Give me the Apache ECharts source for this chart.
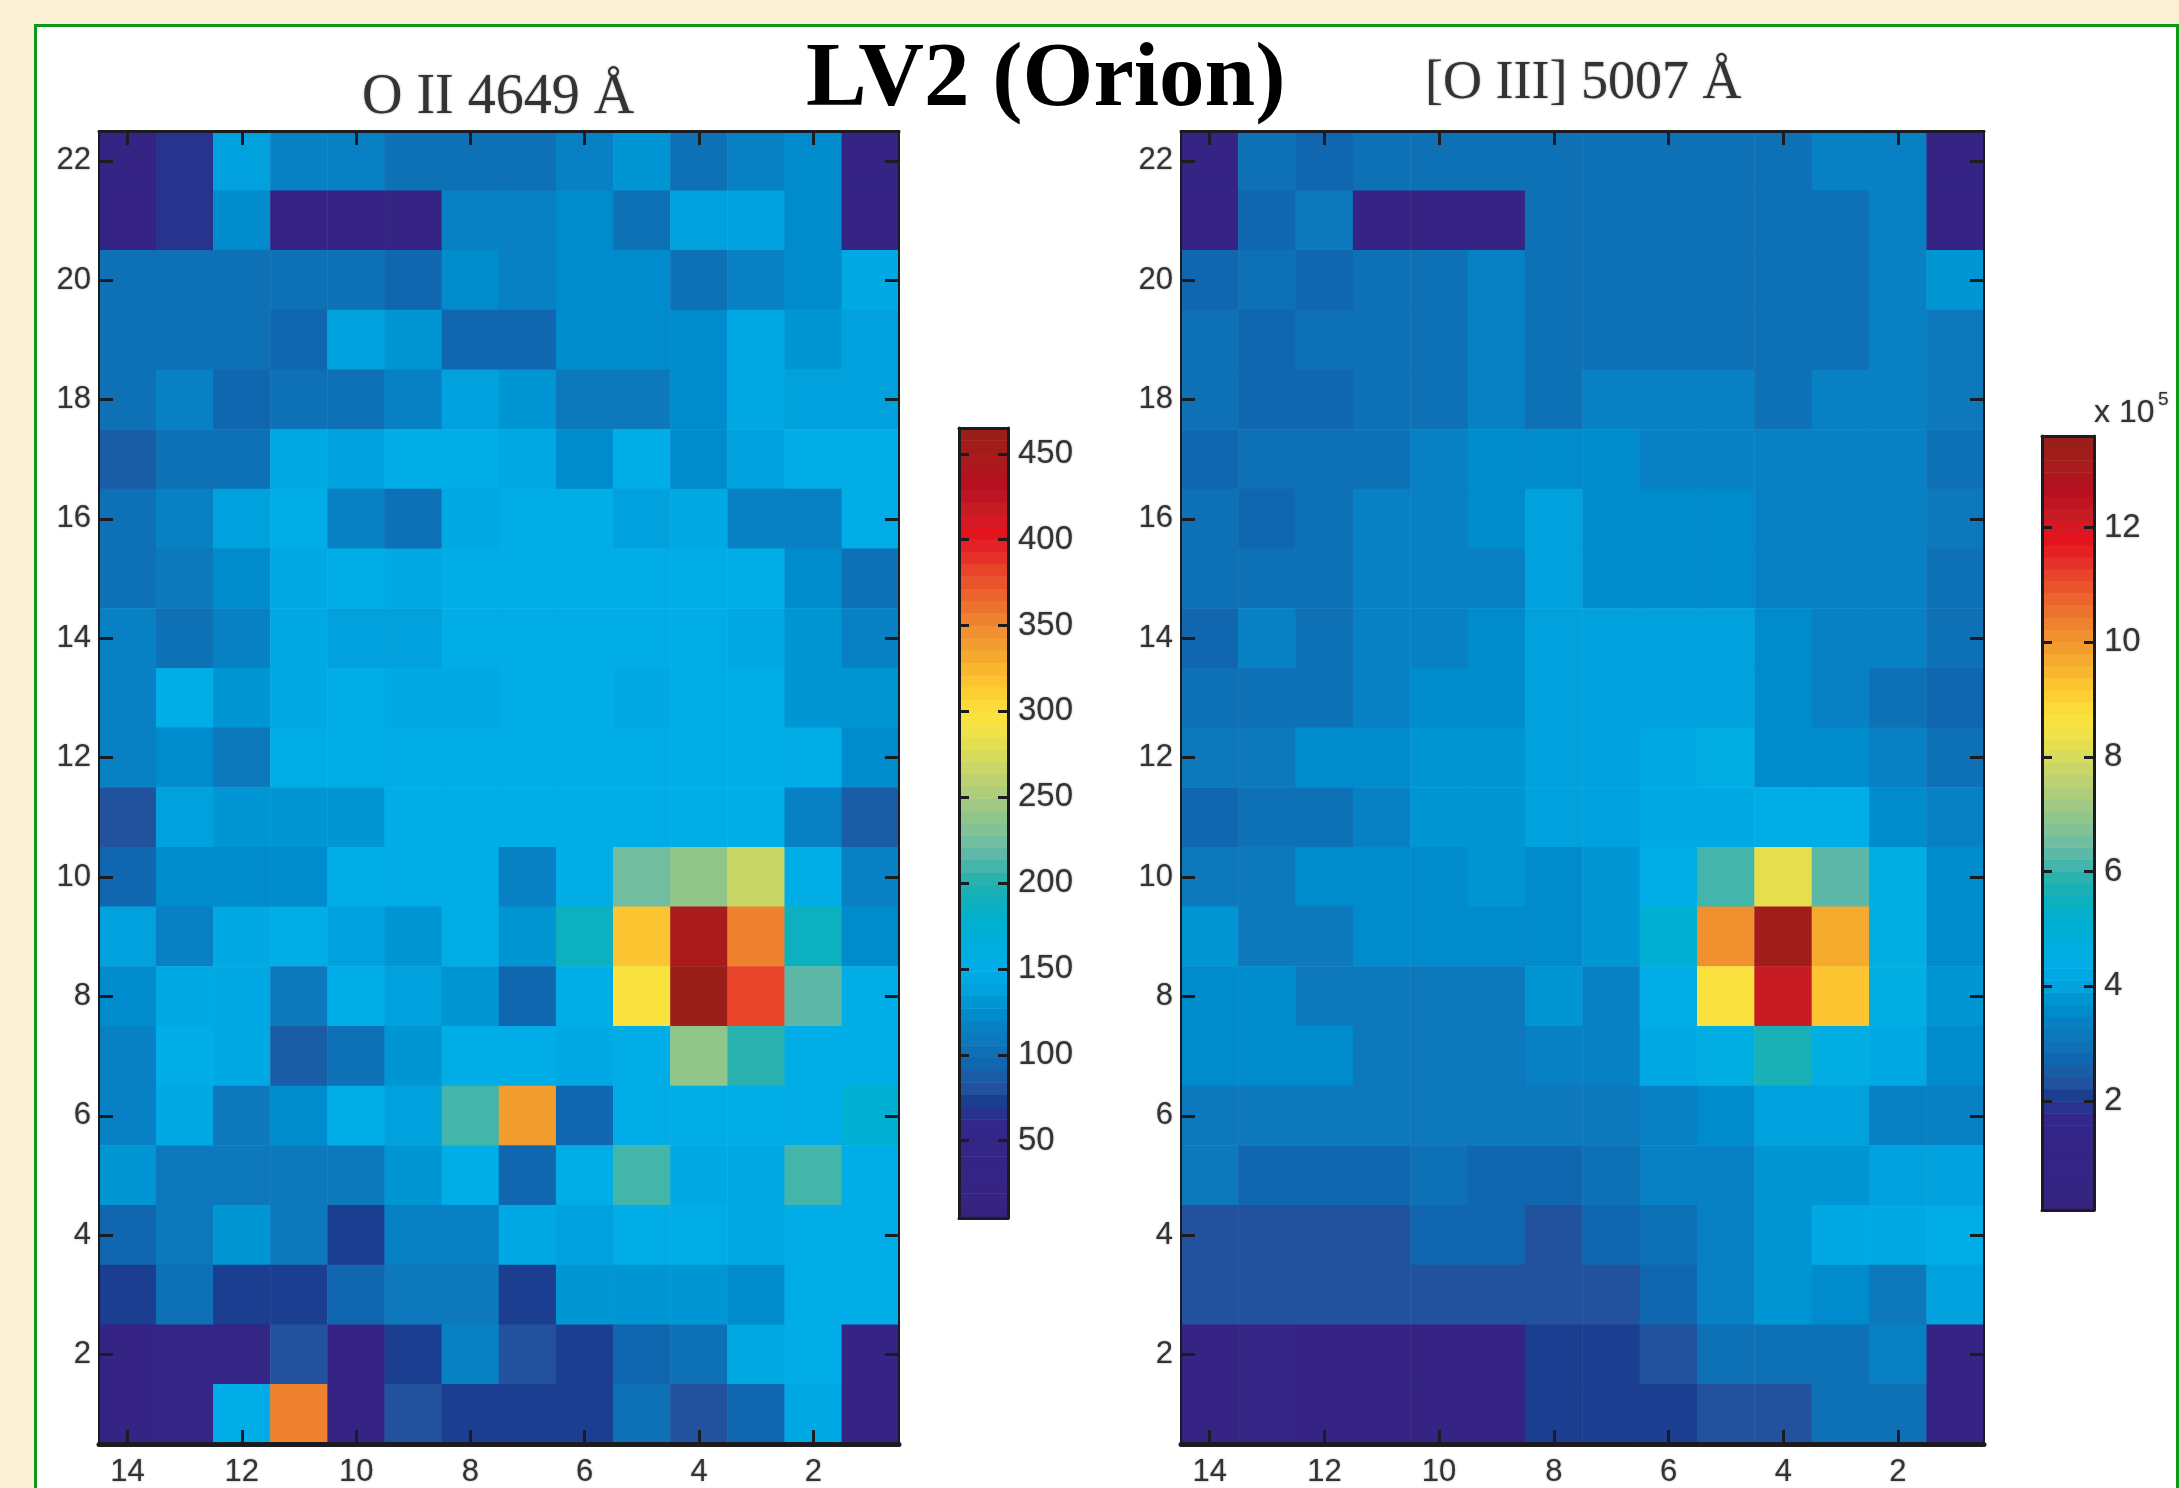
<!DOCTYPE html>
<html><head><meta charset="utf-8">
<style>html,body{margin:0;padding:0;background:#fbefd5;overflow:hidden}#c{width:2179px;height:1488px}</style>
<script src="https://cdn.jsdelivr.net/npm/echarts@6/dist/echarts.min.js"></script>
</head><body><div id="c"></div>
<script>
const columns = ['14','13','12','11','10','9','8','7','6','5','4','3','2','1'];
const rowsUp = ['1','2','3','4','5','6','7','8','9','10','11','12','13','14','15','16','17','18','19','20','21','22'];
const o2Ticks = [50,100,150,200,250,300,350,400,450];
const o3Ticks = [2,4,6,8,10,12];
const o2Range = [5,465];
const o3Range = [0.1,13.6];

// rows listed top (22) to bottom (1), columns 14 -> 1
const o2Rows = [
[20,68,135,115,115,105,105,105,115,133,105,118,125,20],
[20,68,125,20,20,20,118,118,120,105,135,135,122,20],
[105,105,105,105,105,95,125,118,120,120,105,115,122,145],
[105,105,105,95,140,128,92,92,120,125,125,145,130,140],
[105,115,95,102,102,115,140,130,112,112,125,145,135,140],
[90,102,102,145,135,152,152,142,120,155,125,135,150,150],
[103,115,135,152,113,100,143,150,150,135,142,115,115,150],
[103,110,122,148,152,142,150,152,152,152,152,150,120,102],
[118,100,118,145,135,135,150,152,152,152,150,142,130,113],
[118,152,130,142,150,143,142,152,152,143,152,150,128,130],
[115,120,112,150,150,150,152,155,153,152,150,150,150,122],
[80,140,130,130,130,150,152,153,153,153,152,152,118,85],
[95,120,122,120,150,150,152,118,150,225,240,270,152,115],
[138,118,145,155,140,128,150,130,188,320,448,350,188,125],
[120,142,145,112,152,140,130,95,152,295,462,385,215,150],
[115,150,145,90,105,130,150,155,148,153,240,200,153,153],
[115,142,112,122,152,140,210,338,95,153,153,153,153,175],
[128,112,112,110,110,128,152,92,150,212,142,142,212,150],
[95,110,130,112,72,118,118,142,138,150,152,145,150,150],
[74,100,74,70,98,112,112,72,130,130,130,122,150,150],
[25,30,30,80,25,72,115,80,72,95,100,145,150,20],
[20,28,155,350,25,80,72,70,72,105,82,95,145,20]
];
const o3Rows = [
[0.7,3.05,2.75,3.05,3.05,3.05,3.05,3.05,3.05,3.05,3.05,3.3,3.3,0.7],
[0.7,2.75,3.2,0.7,0.7,0.7,3.05,3.05,3.05,3.05,3.05,3.05,3.3,0.7],
[2.75,3.05,2.75,3.05,3.05,3.3,3.05,3.05,3.05,3.05,3.05,3.05,3.3,3.7],
[3.05,2.75,3.05,3.05,3.05,3.3,3.05,3.05,3.05,3.05,3.05,3.05,3.3,3.2],
[3.05,2.75,2.75,3.05,3.05,3.3,3.05,3.3,3.3,3.3,3.05,3.3,3.3,3.2],
[2.75,3.0,3.0,3.0,3.3,3.65,3.65,3.65,3.45,3.45,3.45,3.45,3.3,2.95],
[3.05,2.7,3.0,3.3,3.3,3.55,3.95,3.55,3.55,3.55,3.45,3.45,3.3,3.2],
[3.05,3.05,3.0,3.3,3.3,3.3,3.95,3.55,3.55,3.55,3.45,3.45,3.3,2.95],
[2.7,3.45,3.0,3.3,3.3,3.65,3.95,3.95,3.95,3.95,3.65,3.3,3.3,2.95],
[3.05,3.05,3.05,3.3,3.65,3.65,3.95,3.95,3.95,3.95,3.65,3.3,2.95,2.7],
[3.2,3.2,3.55,3.55,3.75,3.75,3.95,3.95,4.15,4.55,3.65,3.65,3.3,2.85],
[2.75,3.05,3.05,3.45,3.75,3.75,3.95,4.1,4.2,4.3,4.5,4.5,3.55,3.3],
[3.2,3.2,3.55,3.55,3.55,3.75,3.65,3.85,4.5,6.1,8.2,6.3,4.55,3.55],
[3.75,3.2,3.2,3.55,3.55,3.55,3.55,3.85,5.0,10.2,13.3,9.7,4.55,3.55],
[3.55,3.55,3.2,3.2,3.2,3.2,3.75,3.45,4.5,8.7,12.2,9.2,4.55,3.75],
[3.55,3.55,3.55,3.2,3.2,3.2,3.45,3.45,4.2,4.6,5.7,4.6,4.3,3.55],
[3.1,3.1,3.1,3.1,3.1,3.1,3.1,3.1,3.45,3.55,3.95,3.95,3.45,3.45],
[3.2,2.75,2.75,2.75,3.05,2.75,2.75,3.0,3.45,3.45,3.75,3.75,3.95,3.95],
[2.3,2.3,2.3,2.3,2.75,2.75,2.3,2.75,2.95,3.45,3.75,4.2,4.2,4.5],
[2.3,2.3,2.3,2.3,2.3,2.3,2.3,2.3,2.75,3.45,3.75,3.65,3.2,4.0],
[0.6,0.9,0.6,0.6,0.6,0.6,2.05,2.05,2.3,2.85,3.05,3.05,3.3,0.6],
[0.6,0.8,0.7,0.7,0.7,0.7,2.05,2.05,2.1,2.3,2.3,2.85,2.85,0.6]
];

// colormap stops as on the O II colour bar: value, colour
const stopValues = [5,60,66,74,82,93,103,113,123,133,143,153,163,178,192,205,218,234,250,265,280,294,305,320,335,350,365,380,392,404,418,432,448,465];
const stopColors = ['#36237f','#33278a','#27338c','#1b3f92','#24559f','#1164ad','#0f72b6','#0b7cc0','#008acc','#009ad6','#00a8e2','#00ade6','#00aee0','#00b0d0','#10b0b8','#30b4ac','#62b8a8','#88c490','#a8cc80','#c4d46c','#e2df52','#f8e340','#fdd835','#fbc02f','#f4a52e','#ef8a2f','#ea6a2d','#e84a2a','#e62a2a','#e4141f','#c81c24','#b80f20','#a81c1c','#962018'];
const levelCount = 64;

function hex(c){ return [1,3,5].map(i => parseInt(c.slice(i,i+2),16)); }
function colourAt(v){
  let i = 0;
  while (i < stopValues.length - 2 && v > stopValues[i+1]) i++;
  const t = Math.min(1, Math.max(0, (v - stopValues[i]) / (stopValues[i+1] - stopValues[i])));
  const a = hex(stopColors[i]), b = hex(stopColors[i+1]);
  return 'rgb(' + a.map((x,k) => Math.round(x + (b[k]-x)*t)).join(',') + ')';
}
const bandColors = [], bandEdges = [];
for (let i = 0; i <= levelCount; i++) bandEdges.push(o2Range[0] + i * (o2Range[1]-o2Range[0]) / levelCount);
for (let i = 0; i < levelCount; i++) bandColors.push(colourAt((bandEdges[i]+bandEdges[i+1])/2));
const o3Edges = bandEdges.map(e => o3Range[0] + (e - o2Range[0]) / (o2Range[1] - o2Range[0]) * (o3Range[1] - o3Range[0]));

function cells(rows){
  const out = [];
  rows.forEach((r, i) => r.forEach((v, j) => out.push([j, rows.length - 1 - i, v])));
  return out;
}
function pieces(edges){
  return bandColors.map((c, i) => i === 0 ? {lt: edges[1], color: c}
    : i === bandColors.length - 1 ? {gte: edges[i], color: c}
    : {gte: edges[i], lt: edges[i+1], color: c});
}
function bands(edges){
  return bandColors.map((c, i) => ({value: [edges[i], edges[i+1]], itemStyle: {color: c}}));
}
const renderBand = (params, api) => {
  const a = api.coord([0, api.value(1)]);
  const b = api.coord([1, api.value(0)]);
  return {type: 'rect', shape: {x: a[0], y: a[1], width: b[0] - a[0], height: b[1] - a[1] + 0.5},
    style: {fill: api.visual('color')}};
};

const ink = '#1c1c20';
const textCol = '#333';
const tickInterval = (i, v) => +v % 2 === 0;
const line = w => ({show: true, onZero: false, lineStyle: {color: ink, width: w}});
const labelFont = {color: textCol, fontFamily: 'Liberation Sans', fontSize: 31, textShadowColor: 'rgba(60,60,60,.5)', textShadowBlur: 2};

function mapAxes(){
  return {
    x: [
      {type: 'category', data: columns, position: 'bottom', z: 6, axisLine: line(5),
       axisTick: {show: true, inside: true, alignWithLabel: true, interval: tickInterval, length: 14, lineStyle: {color: ink, width: 3}},
       axisLabel: {...labelFont, interval: tickInterval, margin: 13, hideOverlap: false}, splitLine: {show: false}},
      {type: 'category', data: columns, position: 'top', z: 6, axisLine: line(3),
       axisTick: {show: true, inside: true, alignWithLabel: true, interval: tickInterval, length: 14, lineStyle: {color: ink, width: 3}},
       axisLabel: {show: false}, splitLine: {show: false}}
    ],
    y: [
      {type: 'category', data: rowsUp, position: 'left', z: 6, axisLine: line(2),
       axisTick: {show: true, inside: true, alignWithLabel: true, interval: tickInterval, length: 14, lineStyle: {color: ink, width: 3}},
       axisLabel: {...labelFont, interval: tickInterval, margin: 8, padding: [6,0,0,0]}, splitLine: {show: false}},
      {type: 'category', data: rowsUp, position: 'right', z: 6, axisLine: line(2),
       axisTick: {show: true, inside: true, alignWithLabel: true, interval: tickInterval, length: 14, lineStyle: {color: ink, width: 3}},
       axisLabel: {show: false}, splitLine: {show: false}}
    ]
  };
}
function barAxes(range, ticks){
  const xa = pos => ({type: 'value', min: 0, max: 1, position: pos, z: 6, axisLine: line(3), axisTick: {show: false}, axisLabel: {show: false}, splitLine: {show: false}});
  const ya = (pos, showLabel) => ({type: 'value', min: range[0], max: range[1], position: pos, z: 6, axisLine: line(3),
    axisTick: {show: true, inside: true, length: 10, customValues: ticks, lineStyle: {color: ink, width: 3}},
    axisLabel: showLabel ? {...labelFont, fontSize: 33, margin: 10, customValues: ticks, showMinLabel: true, showMaxLabel: true, hideOverlap: false, padding: [3,0,0,0]} : {show: false},
    splitLine: {show: false}});
  return {x: [xa('bottom'), xa('top')], y: [ya('left', false), ya('right', true)]};
}
const m1 = mapAxes(), b1 = barAxes(o2Range, o2Ticks), m2 = mapAxes(), b2 = barAxes(o3Range, o3Ticks);
const withGrid = (arr, g) => arr.map(a => ({...a, gridIndex: g}));

const softText = {textShadowColor: 'rgba(60,60,60,.5)', textShadowBlur: 2};
const chart = echarts.init(document.getElementById('c'), null, {renderer: 'canvas'});
chart.setOption({
  animation: false,
  backgroundColor: '#fbefd5',
  grid: [
    {left: 99, top: 131, width: 800, height: 1314},
    {left: 959, top: 428, width: 49, height: 790},
    {left: 1181, top: 131, width: 803, height: 1314},
    {left: 2042, top: 436, width: 52, height: 774}
  ],
  xAxis: [...withGrid(m1.x,0), ...withGrid(b1.x,1), ...withGrid(m2.x,2), ...withGrid(b2.x,3)],
  yAxis: [...withGrid(m1.y,0), ...withGrid(b1.y,1), ...withGrid(m2.y,2), ...withGrid(b2.y,3)],
  visualMap: [
    {type: 'piecewise', show: false, seriesIndex: 0, dimension: 2, pieces: pieces(bandEdges)},
    {type: 'piecewise', show: false, seriesIndex: 2, dimension: 2, pieces: pieces(o3Edges)}
  ],
  series: [
    {name: 'O II 4649 Å', type: 'heatmap', xAxisIndex: 0, yAxisIndex: 0, data: cells(o2Rows), progressive: 0, z: 2, emphasis: {disabled: true}},
    {name: 'O II colour bar', type: 'custom', xAxisIndex: 2, yAxisIndex: 2, data: bands(bandEdges), renderItem: renderBand, z: 2, clip: false, encode: {y: [0,1]}},
    {name: '[O III] 5007 Å', type: 'heatmap', xAxisIndex: 4, yAxisIndex: 4, data: cells(o3Rows), progressive: 0, z: 2, emphasis: {disabled: true}},
    {name: 'O III colour bar', type: 'custom', xAxisIndex: 6, yAxisIndex: 6, data: bands(o3Edges), renderItem: renderBand, z: 2, clip: false, encode: {y: [0,1]}}
  ],
  graphic: [
    {type: 'rect', z: -10, silent: true, shape: {x: 35.5, y: 25.5, width: 2142, height: 1480}, style: {fill: '#ffffff', stroke: '#0e9a14', lineWidth: 3}},
    {type: 'text', z: 20, left: 806, top: 36, style: {text: 'LV2 (Orion)', fill: '#000', font: 'bold 91px "Liberation Serif"'}},
    {type: 'text', z: 20, left: 362, top: 70, style: {text: 'O II 4649 Å', fill: '#333', font: '56px "Liberation Serif"', ...softText}},
    {type: 'text', z: 20, left: 1425, top: 57, style: {text: '[O III] 5007 Å', fill: '#333', font: '54px "Liberation Serif"', ...softText}},
    {type: 'text', z: 20, left: 2094, top: 397, style: {text: 'x 10', fill: textCol, font: '32px "Liberation Sans"', ...softText}},
    {type: 'text', z: 20, left: 2158, top: 390, style: {text: '5', fill: textCol, font: '19px "Liberation Sans"', ...softText}}
  ]
});
</script></body></html>
